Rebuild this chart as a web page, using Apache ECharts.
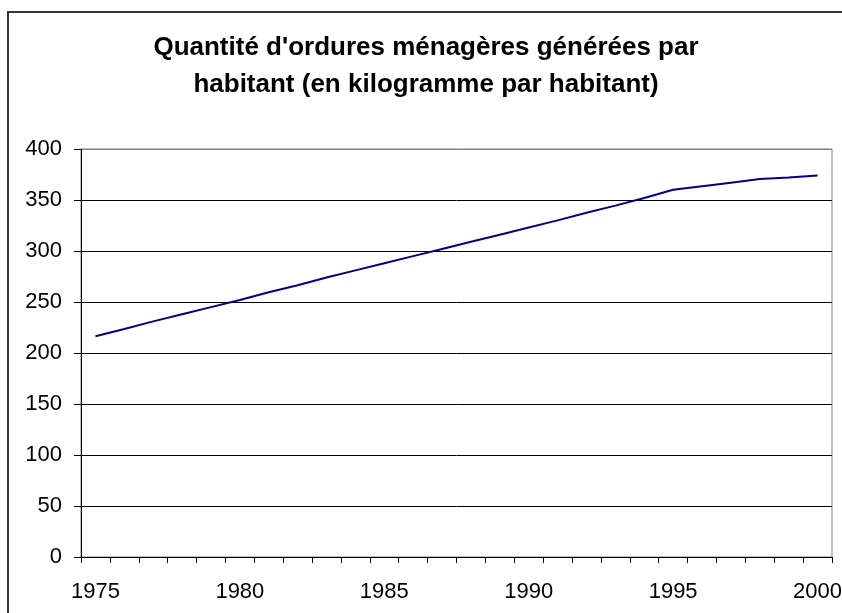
<!DOCTYPE html>
<html lang="fr">
<head>
	<meta charset="UTF-8">
	<title>Ordures ménagères</title>
	<style>
		body { margin: 0; background: #fff; }
	</style>
</head>
<body>

	<div id="main" style="width: 842px;height: 613px"></div>

	<script src="https://cdn.jsdelivr.net/npm/echarts@6/dist/echarts.min.js"></script>
	<script type="text/javascript">

	// années (axe X)
	var years = ['1975','1976','1977','1978','1979','1980','1981','1982','1983','1984',
	             '1985','1986','1987','1988','1989','1990','1991','1992','1993','1994',
	             '1995','1996','1997','1998','1999','2000'];
	// kg par habitant
	var kgParHabitant = [216.5, 223.5, 231, 238, 245, 252, 259.5, 266.5, 274, 281,
	                     288, 295, 302, 309, 316, 323, 330, 337.5, 344.5, 352,
	                     360, 363.5, 367, 370.5, 372, 374];
	var yTicks = [0, 50, 100, 150, 200, 250, 300, 350, 400];

	var titre = "Quantité d'ordures ménagères générées par\nhabitant (en kilogramme par habitant)";
	var police = "'Liberation Sans', Arial, sans-serif";

	// lignes de quadrillage noires, la dernière (400) grise comme le cadre
	var couleursGrille = yTicks.map(function (v, i) {
		return i === yTicks.length - 1 ? '#808080' : '#000';
	});

	var myChart = echarts.init(document.getElementById('main'));

	var option = {
		animation: false,
		backgroundColor: '#fff',
		title: {
			text: titre,
			left: 421,
			textAlign: 'center',
			top: 24,
			textStyle: {
				fontFamily: police,
				fontWeight: 'bold',
				fontSize: 26,
				lineHeight: 37,
				color: '#000'
			}
		},
		// cadre du graphique
		graphic: [{
			type: 'rect',
			silent: true,
			shape: { x: 8, y: 12, width: 900, height: 700 },
			style: { fill: 'none', stroke: '#333', lineWidth: 2 }
		}],
		grid: {
			left: 81,
			right: 10,
			top: 149,
			bottom: 56,
			containLabel: false,
			outerBoundsMode: 'none',
			show: true,
			borderColor: '#808080',
			borderWidth: 1
		},
		xAxis: {
			type: 'category',
			data: years,
			boundaryGap: true,
			axisLine: { lineStyle: { color: '#000', width: 1 } },
			axisTick: { show: true, interval: 0, length: 6, inside: false, lineStyle: { color: '#000' } },
			axisLabel: {
				interval: 4,
				margin: 24,
				fontFamily: police,
				fontSize: 22,
				color: '#000'
			},
			splitLine: { show: false }
		},
		yAxis: {
			type: 'value',
			min: yTicks[0],
			max: yTicks[yTicks.length - 1],
			interval: 50,
			axisLine: { show: true, lineStyle: { color: '#000', width: 1 } },
			axisTick: { show: true, length: 7, lineStyle: { color: '#000' } },
			axisLabel: {
				margin: 19,
				fontFamily: police,
				fontSize: 22,
				color: '#000'
			},
			splitLine: { show: true, lineStyle: { color: couleursGrille, width: 1 } }
		},
		series: [{
			name: 'kg/habitant',
			type: 'line',
			data: kgParHabitant,
			symbol: 'none',
			smooth: false,
			lineStyle: { color: '#000080', width: 2 }
		}]
	};
	myChart.setOption(option);
	</script>

</body>
</html>
